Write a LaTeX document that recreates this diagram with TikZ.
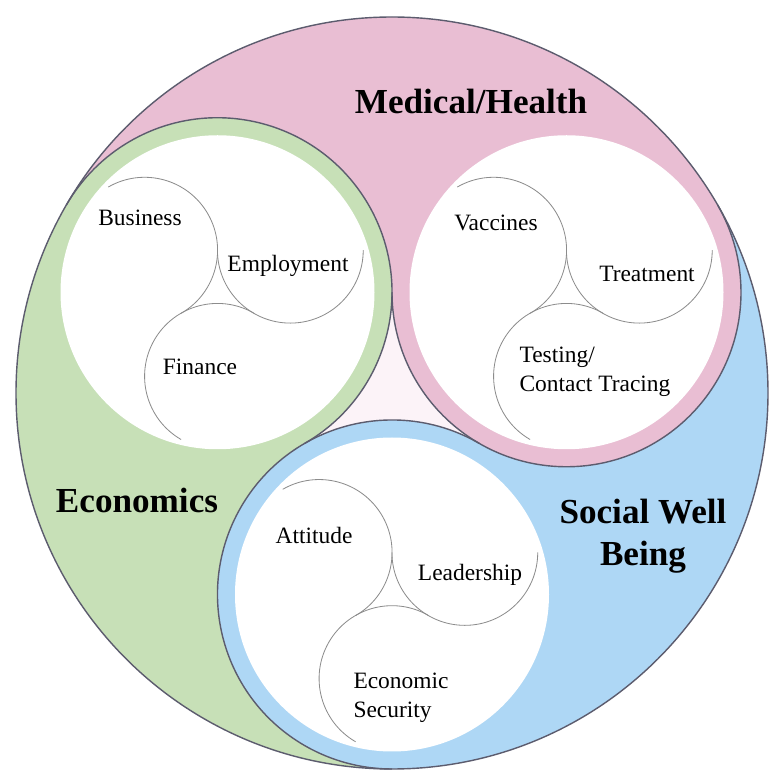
\documentclass[tikz,border=0pt]{standalone}
\usepackage{fontspec}
\setmainfont{Liberation Serif}
\definecolor{pinkc}{HTML}{E9BED3}
\definecolor{greenc}{HTML}{C7E0B7}
\definecolor{bluec}{HTML}{AED7F5}
\definecolor{midc}{HTML}{FCF3F8}
\definecolor{edgec}{HTML}{5C5C6E}
\definecolor{thinc}{HTML}{8C8C8C}
\begin{document}
\begin{tikzpicture}[x=0.03cm,y=0.03cm,
  edge/.style={draw=edgec,line width=1.2pt},
  thinarc/.style={draw=thinc,line width=0.7pt},
  big/.style={font=\fontsize{30}{36}\selectfont\bfseries, align=center, inner sep=0pt},
  small/.style={font=\fontsize{20}{24.8}\selectfont, inner sep=0pt},
  smallleft/.style={small, align=left},
]
\useasboundingbox (0,0) rectangle (771,772);
\fill[white] (0,0) rectangle (771,772);
\def\R{376}
\def\r{174.5}
\def\w{157}
\def\sd{84.1}
\def\sr{72.9}
\coordinate (O) at (392,379);
\coordinate (G) at (217.5,479.75);
\coordinate (P) at (566.5,479.75);
\coordinate (B) at (392,177.5);
% coloured gap regions
\begin{scope}
\clip (O) circle[radius=\R];
\fill[pinkc, shift={(O)}] (0,0) -- (30:800) -- (90:800) -- (150:800) -- cycle;
\fill[greenc, shift={(O)}] (0,0) -- (150:800) -- (210:800) -- (270:800) -- cycle;
\fill[bluec, shift={(O)}] (0,0) -- (270:800) -- (330:800) -- (30:800) -- cycle;
\end{scope}
\fill[midc] (G) -- (P) -- (B) -- cycle;
% rings
\fill[greenc] (G) circle[radius=\r];
\fill[pinkc] (P) circle[radius=\r];
\fill[bluec] (B) circle[radius=\r];
\fill[white] (G) circle[radius=\w];
\fill[white] (P) circle[radius=\w];
\fill[white] (B) circle[radius=\w];
% outlines
\draw[edge] (G) ++(-60:\r) arc[start angle=-60,end angle=150,radius=\r];
\draw[edge] (P) ++(180:\r) arc[start angle=180,end angle=390,radius=\r];
\draw[edge] (B) ++(60:\r) arc[start angle=60,end angle=270,radius=\r];
\draw[edge] (O) circle[radius=\R];
% inner triskelion arcs
\foreach \c in {G,P,B}{
  \draw[thinarc] (\c) ++(150:\sd) ++(-60:\sr) arc[start angle=-60,end angle=120,radius=\sr];
  \draw[thinarc] (\c) ++(30:\sd) ++(180:\sr) arc[start angle=180,end angle=360,radius=\sr];
  \draw[thinarc] (\c) ++(270:\sd) ++(60:\sr) arc[start angle=60,end angle=240,radius=\sr];
}
% labels
\node[big] (med) at (471,671) {Medical/Health};
\node[big] (eco) at (137,272) {Economics};
\node[big] (soc) at (643,236) {Social Well\\Being};
\node[small] (bus) at (140,554) {Business};
\node[small] (emp) at (288,506) {Employment};
\node[small] (fin) at (200,405) {Finance};
\node[small] (vac) at (496,549) {Vaccines};
\node[small] (tre) at (647,498) {Treatment};
\node[smallleft] (tes) at (595,400) {Testing/\\Contact Tracing};
\node[small] (att) at (314,237) {Attitude};
\node[small] (lea) at (470,197) {Leadership};
\node[smallleft] (ecs) at (401,74) {Economic\\Security};
\end{tikzpicture}
\end{document}
